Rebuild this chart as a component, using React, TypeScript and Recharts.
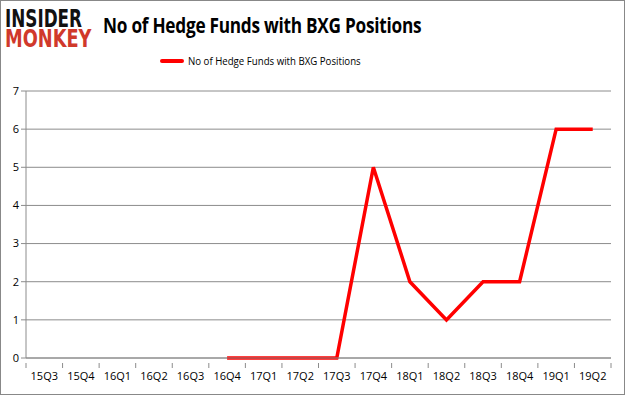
import React from "react";
import { LineChart, Line, XAxis, YAxis, CartesianGrid } from "recharts";

const categories = ["15Q3","15Q4","16Q1","16Q2","16Q3","16Q4","17Q1","17Q2","17Q3","17Q4","18Q1","18Q2","18Q3","18Q4","19Q1","19Q2"];
const hedgeFunds: (number | null)[] = [null,null,null,null,null,0,0,0,0,5,2,1,2,2,6,6];
const yTicks = [0,1,2,3,4,5,6,7];
const seriesName = "No of Hedge Funds with BXG Positions";

const data = categories.map((q, i) => ({ q, v: hedgeFunds[i] }));

const PLOT_W = 585;
const HALF = PLOT_W / categories.length / 2;

const XTick = (props: any) => {
  const { x, y, payload, index } = props;
  const ty = y - 3;
  return (
    <g>
      {index === 0 && <line x1={x - HALF} x2={x - HALF} y1={ty} y2={ty + 5} stroke="#8c8c8c" />}
      <line x1={x + HALF} x2={x + HALF} y1={ty} y2={ty + 5} stroke="#8c8c8c" />
      <text x={x} y={y + 14} textAnchor="middle" fill="#000" fontSize={11} fontFamily="'Open Sans', sans-serif">{payload.value}</text>
    </g>
  );
};

export default function App() {
  return (
    <div style={{ position: "absolute", left: 0, top: 0, width: 625, height: 395, background: "#fff", fontFamily: "'Liberation Sans', Arial, sans-serif" }}>
      <div style={{ position: "absolute", left: 0, top: 0, width: 623, height: 393, border: "1px solid #888" }} />
      <div style={{ position: "absolute", left: 5, top: 9, transformOrigin: "0 0", transform: "scaleX(0.7)", fontFamily: "'DejaVu Sans', sans-serif", fontWeight: 900, fontSize: 24, lineHeight: "20px", whiteSpace: "nowrap", color: "#111" }}>INSIDER</div>
      <div style={{ position: "absolute", left: 5, top: 29, transformOrigin: "0 0", transform: "scaleX(0.74)", fontFamily: "'DejaVu Sans', sans-serif", fontWeight: 900, fontSize: 24, lineHeight: "20px", whiteSpace: "nowrap", color: "#d0392b" }}>MONKEY</div>
      <div style={{ position: "absolute", left: 103, top: 11, transformOrigin: "0 0", transform: "scaleX(0.84)", fontFamily: "'Open Sans', sans-serif", fontWeight: 700, fontSize: 20.5, lineHeight: "28px", color: "#000", whiteSpace: "nowrap", letterSpacing: -0.3 }}>No of Hedge Funds with BXG Positions</div>
      <div style={{ position: "absolute", left: 160, top: 53, display: "flex", alignItems: "center", fontFamily: "'Open Sans', sans-serif", fontSize: 11.5, color: "#000", whiteSpace: "nowrap" }}>
        <div style={{ width: 24, height: 4, background: "#ff0000", borderRadius: 2, marginRight: 4 }} />
        <span style={{ display: "inline-block", transformOrigin: "0 50%", transform: "scaleX(0.84)" }}>{seriesName}</span>
      </div>
      <div style={{ position: "absolute", left: 0, top: 0 }}>
        <LineChart width={625} height={395} data={data} margin={{ top: 91, right: 14, bottom: 12, left: 0 }}>
          <CartesianGrid vertical={false} stroke="#8c8c8c" strokeWidth={1} />
          <XAxis dataKey="q" stroke="#8c8c8c" tickLine={false} height={25} padding={{ left: HALF, right: HALF }}
            tick={<XTick />} interval={0} />
          <YAxis domain={[0, 7]} ticks={yTicks} width={26} stroke="#8c8c8c" tickSize={5}
            tick={{ fill: "#000", fontSize: 11, fontFamily: "'Open Sans', sans-serif" }} />
          <Line type="linear" dataKey="v" name={seriesName} stroke="#ff0000" strokeWidth={3.5} dot={false} isAnimationActive={false} connectNulls={false} />
        </LineChart>
      </div>
    </div>
  );
}
